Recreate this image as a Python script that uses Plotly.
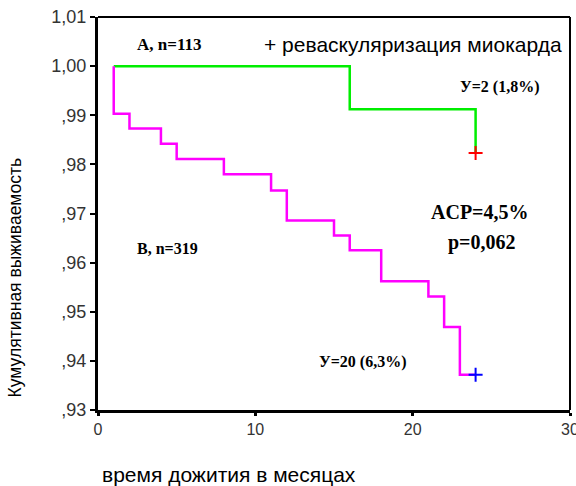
import plotly.graph_objects as go

# Kaplan-Meier survival, months
group_a_time = [1, 16, 24]
group_a_surv = [1.00, 0.9912, 0.9823]

group_b_time = [1, 1, 2, 4, 5, 8, 11, 12, 15, 16, 18, 21, 22, 23, 24]
group_b_surv = [1.00, 0.9903, 0.9873, 0.9842, 0.9811, 0.9780, 0.9747,
                0.9686, 0.9655, 0.9625, 0.9562, 0.9531, 0.9469, 0.9372, 0.9372]

y_tick_vals = [0.93, 0.94, 0.95, 0.96, 0.97, 0.98, 0.99, 1.00, 1.01]
y_tick_text = [",93", ",94", ",95", ",96", ",97", ",98", ",99", "1,00", "1,01"]
x_tick_vals = [0, 10, 20, 30]
x_tick_text = ["0", "10", "20", "30"]

serif_bold = "Liberation Serif"
sans = "Liberation Sans, Arial, sans-serif"

fig = go.Figure()

fig.add_trace(go.Scatter(
    x=group_a_time, y=group_a_surv, mode="lines", line_shape="hv",
    line=dict(color="#00ee00", width=2.5), showlegend=False, hoverinfo="skip"))
fig.add_trace(go.Scatter(
    x=group_b_time, y=group_b_surv, mode="lines", line_shape="hv",
    line=dict(color="#ff00ff", width=2.5), showlegend=False, hoverinfo="skip"))

# censoring marks at the end of follow-up
fig.add_trace(go.Scatter(
    x=[group_a_time[-1]], y=[group_a_surv[-1]], mode="markers",
    marker=dict(symbol="cross-thin", size=10, line=dict(color="#ff0000", width=2)),
    showlegend=False, hoverinfo="skip"))
fig.add_trace(go.Scatter(
    x=[group_b_time[-1]], y=[group_b_surv[-1]], mode="markers",
    marker=dict(symbol="cross-thin", size=10, line=dict(color="#0000ff", width=2)),
    showlegend=False, hoverinfo="skip"))

def note(text, x, y, size, family=serif_bold, bold=True, xanchor="center"):
    fig.add_annotation(
        text=f"<b>{text}</b>" if bold else text, x=x, y=y, xref="paper", yref="paper",
        xanchor=xanchor, yanchor="middle", showarrow=False,
        font=dict(family=family, size=size, color="#000000"))

# paper coords: plot spans x 98..570 px, y 17..410 px
def px(xp):
    return (xp - 98) / 472

def py(yp):
    return (410 - yp) / 393

note("A, n=113", px(169), py(45), 17)
note("+ реваскуляризация миокарда", px(564), py(44), 21, family=sans, bold=False, xanchor="right")
note("У=2 (1,8%)", px(500), py(87), 16)
note("ACP=4,5%", px(480), py(212), 20)
note("p=0,062", px(482), py(243), 20)
note("B, n=319", px(167), py(248), 16)
note("У=20 (6,3%)", px(363), py(362), 16)

fig.add_annotation(
    text="Кумулятивная выживаемость", x=-0.175, y=py(278), xref="paper", yref="paper",
    textangle=-90, showarrow=False, xanchor="center", yanchor="middle",
    font=dict(family=sans, size=17.5, color="#000000"))
fig.add_annotation(
    text="время дожития в месяцах", x=px(100), y=py(474), xref="paper", yref="paper",
    showarrow=False, xanchor="left", yanchor="middle",
    font=dict(family=sans, size=21, color="#000000"))

# thin top/right frame
fig.add_shape(type="line", xref="paper", yref="paper", x0=0, x1=1, y0=1, y1=1,
              line=dict(color="#000000", width=2))
fig.add_shape(type="line", xref="paper", yref="paper", x0=1, x1=1, y0=0, y1=1,
              line=dict(color="#000000", width=2))

fig.update_xaxes(
    range=[0, 30], tickvals=x_tick_vals, ticktext=x_tick_text,
    showgrid=False, zeroline=False, showline=True, linecolor="#000000", linewidth=3,
    ticks="outside", ticklen=3, tickwidth=3, tickcolor="#000000",
    ticklabeloverflow="allow", automargin=False,
    tickfont=dict(family=sans, size=16, color="#333333"))
fig.update_yaxes(
    range=[0.93, 1.01], tickvals=y_tick_vals, ticktext=y_tick_text,
    showgrid=False, zeroline=False, showline=True, linecolor="#000000", linewidth=3,
    ticks="outside", ticklen=5, tickwidth=2, tickcolor="#000000",
    ticklabeloverflow="allow", automargin=False,
    tickfont=dict(family=sans, size=18, color="#333333"))

fig.update_layout(
    width=576, height=486,
    margin=dict(l=98, r=6, t=17, b=76, autoexpand=False),
    plot_bgcolor="#ffffff", paper_bgcolor="#ffffff",
)

fig.write_html("out.html")
